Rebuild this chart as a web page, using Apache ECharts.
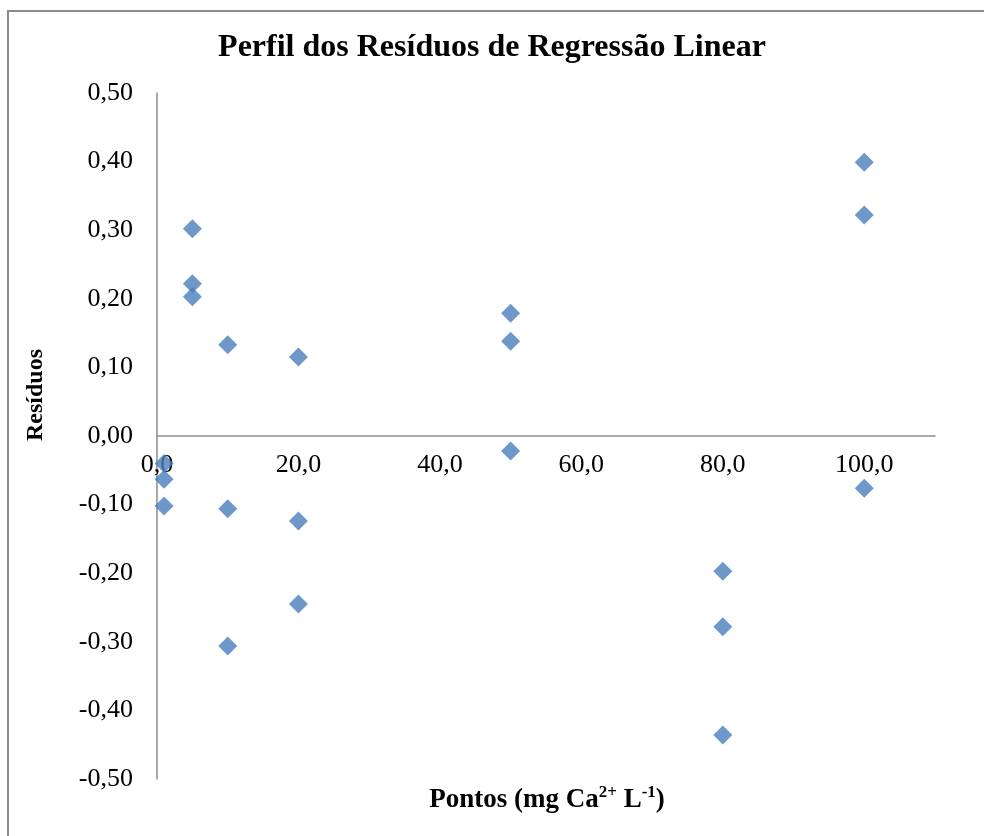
<!DOCTYPE html>
<html>
<head>
<meta charset="utf-8">
<script src="https://cdn.jsdelivr.net/npm/echarts@6/dist/echarts.min.js"></script>
<style>
  html, body { margin: 0; padding: 0; background: #fff; }
  #chart { width: 984px; height: 836px; }
</style>
</head>
<body>
<div id="chart"></div>
<script>
// pontos (mg Ca2+ L-1) e resíduos, três réplicas por nível
const pontos = [1, 1, 1, 5, 5, 5, 10, 10, 10, 20, 20, 20, 50, 50, 50, 80, 80, 80, 100, 100, 100];
const residuos = [
  -0.04, -0.063, -0.102,
  0.302, 0.222, 0.203,
  0.133, -0.106, -0.306,
  0.115, -0.124, -0.245,
  0.179, 0.138, -0.022,
  -0.197, -0.278, -0.436,
  0.399, 0.322, -0.076,
];
const xTicks = [0, 20, 40, 60, 80, 100];
const yTicks = [-0.5, -0.4, -0.3, -0.2, -0.1, 0, 0.1, 0.2, 0.3, 0.4, 0.5];

const serif = "'Liberation Serif', 'DejaVu Serif', serif";
const fmt = (v, d) => v.toFixed(d).replace(".", ",");

const chart = echarts.init(document.getElementById("chart"));
chart.setOption({
  animation: false,
  title: {
    text: "Perfil dos Resíduos de Regressão Linear",
    left: "center",
    top: 27,
    textStyle: { fontFamily: serif, fontSize: 32, fontWeight: "bold", color: "#000" },
  },
  grid: { left: 157, top: 93, right: 49, bottom: 57 },
  xAxis: {
    type: "value",
    min: 0,
    max: 110,
    interval: 20,
    // eixo cruza em y = 0 (343 px acima da base da área)
    offset: -343,
    splitLine: { show: false },
    axisTick: { show: false },
    axisLine: { onZero: false, lineStyle: { color: "#8c8c8c", width: 1.5 } },
    axisLabel: {
      fontFamily: serif,
      fontSize: 26,
      color: "#000",
      margin: 16,
      showMaxLabel: false,
      formatter: (v) => (xTicks.includes(v) ? fmt(v, 1) : ""),
    },
  },
  yAxis: {
    type: "value",
    min: -0.5,
    max: 0.5,
    interval: 0.1,
    splitLine: { show: false },
    axisTick: { show: false },
    axisLine: { show: true, lineStyle: { color: "#8c8c8c", width: 1.5 } },
    axisLabel: {
      fontFamily: serif,
      fontSize: 26,
      color: "#000",
      margin: 24,
      formatter: (v) => {
        const t = yTicks.find((y) => Math.abs(y - v) < 1e-9);
        return t === undefined ? "" : fmt(t, 2);
      },
    },
  },
  graphic: [
    {
      type: "rect",
      shape: { x: 8, y: 11, width: 1000, height: 900 },
      style: { fill: "none", stroke: "#8c8c8c", lineWidth: 2 },
      silent: true,
    },
    {
      type: "text",
      x: 36,
      y: 395,
      rotation: Math.PI / 2,
      style: {
        text: "Resíduos",
        font: "bold 24px " + serif,
        fill: "#000",
        align: "center",
        verticalAlign: "middle",
      },
    },
    {
      type: "text",
      x: 547,
      y: 800,
      style: {
        text: "{b|Pontos (mg Ca}{s|2+}{b| L}{s|-1}{b|)}",
        align: "center",
        verticalAlign: "middle",
        rich: {
          b: { font: "bold 27px " + serif, fill: "#000", lineHeight: 34 },
          s: { font: "bold 17px " + serif, fill: "#000", lineHeight: 34, padding: [0, 0, 14, 0] },
        },
      },
    },
  ],
  series: [
    {
      type: "scatter",
      symbol: "diamond",
      symbolSize: 19,
      itemStyle: { color: "#4a7ebb" },
      data: pontos.map((x, i) => [x, residuos[i]]),
    },
  ],
});
</script>
</body>
</html>
